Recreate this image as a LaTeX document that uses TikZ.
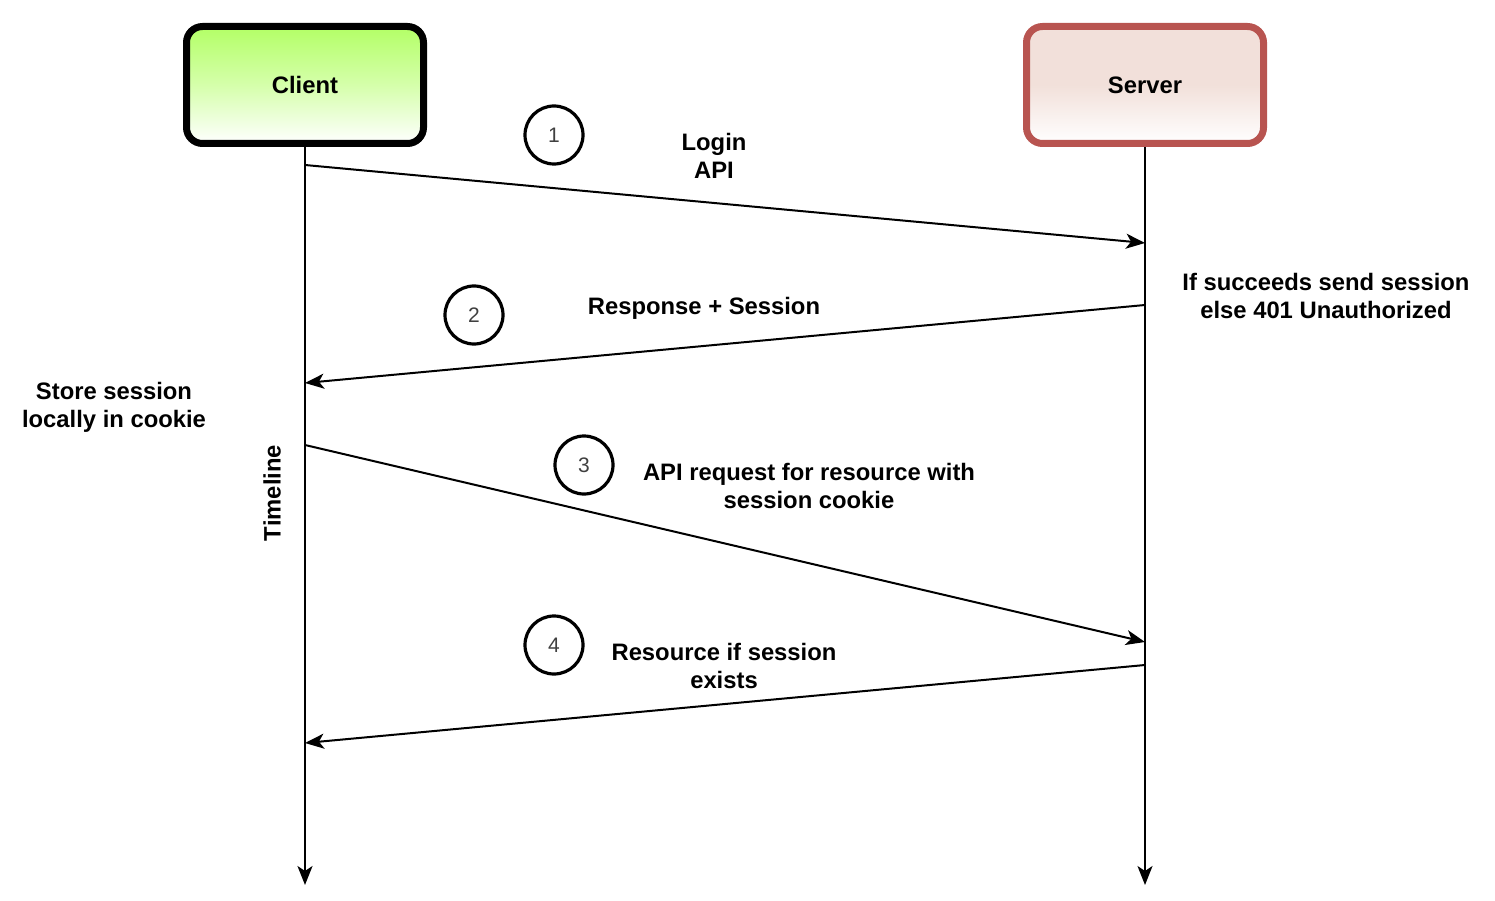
\documentclass[tikz,border=0pt]{standalone}
\usepackage{fontspec}
\setmainfont{Liberation Sans}
\usetikzlibrary{arrows.meta}
\definecolor{clientgreen}{RGB}{179,255,102}
\definecolor{serverred}{RGB}{184,84,80}
\definecolor{serverpink}{RGB}{242,224,218}
\begin{document}
\begin{tikzpicture}[x=1pt, y=-1pt, font=\fontsize{23.8}{28}\selectfont\bfseries,
    actor/.style={rounded corners=16pt, line width=7pt, minimum width=237pt, minimum height=117pt},
    msg/.style={line width=2pt, -{Stealth[length=19pt, width=15pt, inset=5pt]}},
    num/.style={circle, draw, line width=3.2pt, minimum size=58pt, inner sep=0pt, font=\fontsize{21}{24}\selectfont, text=black!75},
    lbl/.style={align=center}]
\useasboundingbox (0,0) rectangle (1495,901);
\node[actor, draw=black, top color=clientgreen, bottom color=white, middle color=clientgreen!55] (client) at (305,85) {Client};
\node[actor, draw=serverred, top color=serverpink, bottom color=white, middle color=serverpink] (server) at (1145,85) {Server};
\coordinate (clientend) at (305,885);
\coordinate (serverend) at (1145,885);
\draw[msg] (client) -- (clientend);
\draw[msg] (server) -- (serverend);
\coordinate (c1) at (305,165);
\coordinate (s1) at (1145,243);
\coordinate (s2) at (1145,305);
\coordinate (c2) at (305,383);
\coordinate (c3) at (305,445);
\coordinate (s3) at (1145,642);
\coordinate (s4) at (1145,665);
\coordinate (c4) at (305,743);
\draw[msg] (c1) -- (s1);
\draw[msg] (s2) -- (c2);
\draw[msg] (c3) -- (s3);
\draw[msg] (s4) -- (c4);
\node[num] (n1) at (554,135) {1};
\node[num] (n2) at (474,315) {2};
\node[num] (n3) at (584,465) {3};
\node[num] (n4) at (554,645) {4};
\node[lbl] (login) at (714,156) {Login\\API};
\node[lbl] (response) at (704,308) {Response + Session};
\node[lbl] (succeeds) at (1326,296) {If succeeds send session\\else 401 Unauthorized};
\node[lbl] (store) at (114,407) {Store session\\locally in cookie};
\node[lbl, rotate=90] (timeline) at (272,493) {Timeline};
\node[lbl] (request) at (809,486) {API request for resource with\\session cookie};
\node[lbl] (resource) at (724,666) {Resource if session\\exists};
\end{tikzpicture}
\end{document}
